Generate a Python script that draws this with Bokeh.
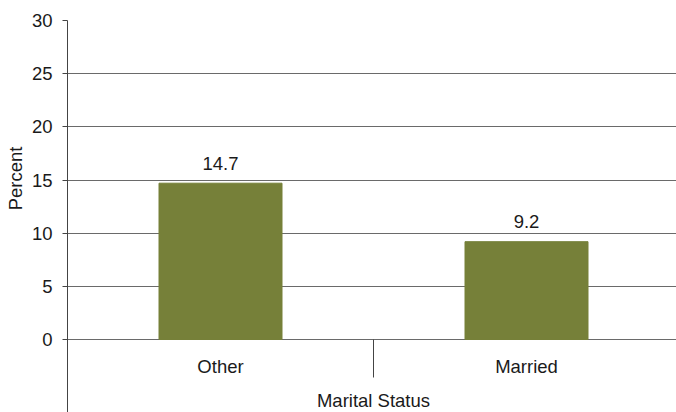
from bokeh.plotting import figure
from bokeh.models import Range1d, FixedTicker, Title, ColumnDataSource
from bokeh.core.properties import value
from bokeh.embed import file_html
from bokeh.resources import INLINE

categories = ["Other", "Married"]
percents = [14.7, 9.2]
value_labels = ["14.7", "9.2"]
y_ticks = [0, 5, 10, 15, 20, 25, 30]
x_title = "Marital Status"
y_title = "Percent"

FONT = "Liberation Sans"
FS = "18.5px"
BAR = "#768039"
TXT = "#1a1a1a"

W, H = 676, 412
left_pad = 67
top_pad = 20
frame_h = H - top_pad
px_per_unit = 319 / 30.0
y_start = -(frame_h - 30 * px_per_unit) / px_per_unit
frame_w = W - left_pad
cat_px = 306.0
x_end = frame_w / cat_px
base_fix = 7  # svg alphabetic baseline correction, px

p = figure(width=W, height=H, output_backend="svg", toolbar_location=None,
           x_range=Range1d(0, x_end), y_range=Range1d(y_start, 30),
           x_axis_location=None, min_border_left=left_pad, min_border_right=0,
           min_border_top=top_pad, min_border_bottom=0)
p.outline_line_color = None
p.xgrid.visible = False
p.ygrid.ticker = FixedTicker(ticks=y_ticks)
p.ygrid.grid_line_color = "#6a6a6a"
p.ygrid.grid_line_width = 1

ya = p.yaxis[0]
ya.ticker = FixedTicker(ticks=y_ticks)
ya.minor_tick_line_color = None
ya.major_tick_out = 5
ya.major_tick_in = 0
ya.major_tick_line_color = "#444444"
ya.axis_line_color = "#444444"
ya.major_label_standoff = 10
ya.major_label_text_font = FONT
ya.major_label_text_font_size = FS
ya.major_label_text_color = TXT

n = len(categories)
xs = [i + 0.5 for i in range(n)]
src = ColumnDataSource(dict(x=xs, top=percents, lab=value_labels, cat=categories))

p.vbar(x="x", top="top", bottom=0, width=123 / cat_px, source=src,
       fill_color=BAR, line_color=BAR, line_width=1)

p.text(x="x", y="top", text="lab", source=src, y_offset=-13 - base_fix,
       text_align="center", text_baseline="alphabetic",
       text_font=value(FONT), text_font_size=FS, text_color=TXT)

p.text(x="x", y=0, text="cat", source=src, y_offset=34 - base_fix,
       text_align="center", text_baseline="alphabetic",
       text_font=value(FONT), text_font_size=FS, text_color=TXT)

# category divider tick(s)
div_x = list(range(1, n))
p.segment(x0=div_x, y0=[0] * len(div_x), x1=div_x,
          y1=[-38 / px_per_unit] * len(div_x), line_color="#444444", line_width=1)

p.text(x=[n / 2.0], y=[0], y_offset=68 - base_fix, text=[x_title],
       text_align="center", text_baseline="alphabetic",
       text_font=value(FONT), text_font_size=FS, text_color=TXT)

p.add_layout(Title(text=y_title, align="right", offset=126, vertical_align="middle",
                   text_font=FONT, text_font_size=FS, text_font_style="normal",
                   text_color=TXT, standoff=4), "left")

open("out.html", "w").write(file_html(p, INLINE))
